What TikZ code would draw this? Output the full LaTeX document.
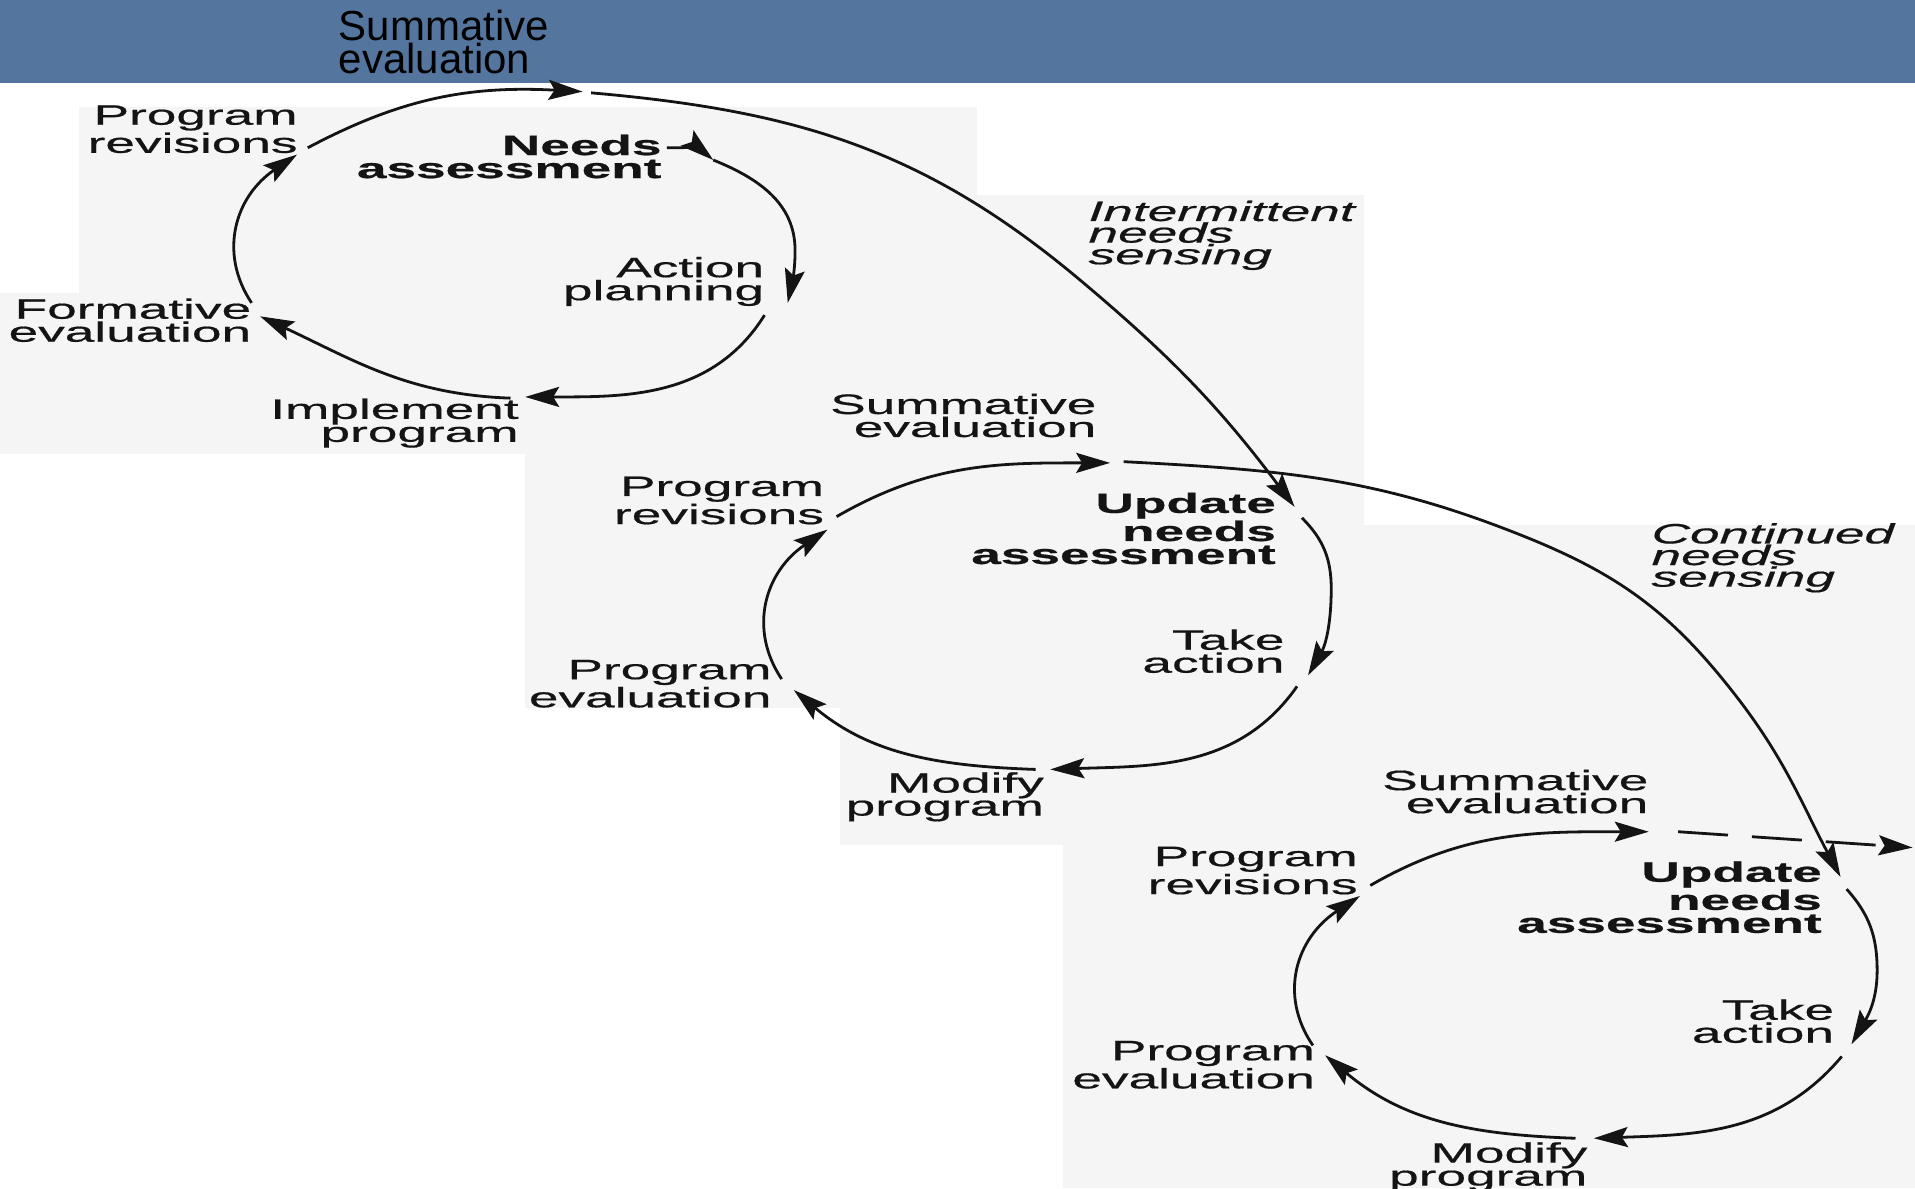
\documentclass[tikz,border=0pt]{standalone}
\usepackage{fontspec}
\setmainfont{Liberation Sans}
\newfontfamily\scanfont[FakeStretch=1.9,FakeBold=0.6]{Liberation Sans}
\usetikzlibrary{arrows.meta}
\definecolor{barblue}{RGB}{84,118,158}
\definecolor{scangray}{RGB}{245,245,245}
\definecolor{ink}{RGB}{20,20,20}
\begin{document}
\begin{tikzpicture}[x=0.61065pt,y=0.61065pt,
  lbl/.style={font=\scanfont\fontsize{14pt}{11.5pt}\selectfont, align=right, inner sep=0pt, anchor=north east, text=ink},
  blbl/.style={lbl, font=\scanfont\bfseries\fontsize{14pt}{11.5pt}\selectfont},
  ilbl/.style={lbl, font=\scanfont\itshape\fontsize{14pt}{10.8pt}\selectfont, align=left, anchor=north west},
  toplbl/.style={font=\fontsize{21pt}{16.5pt}\selectfont, align=left, inner sep=0pt, anchor=north west, text=black},
  flow/.style={draw=ink, line width=1.4pt, -{Stealth[length=17pt,width=10pt,inset=3pt]}},
]
\useasboundingbox (0,0) rectangle (1568,-973);
% scanned background patches
\fill[scangray] (65,-88) rectangle (800,-372);
\fill[scangray] (800,-160) rectangle (1117,-372);
\fill[scangray] (0,-240) rectangle (65,-372);
\fill[scangray] (430,-372) rectangle (1117,-580);
\fill[scangray] (688,-580) rectangle (1117,-692);
\fill[scangray] (870,-692) rectangle (1568,-973);
\fill[scangray] (1117,-430) rectangle (1568,-692);
% title bar
\fill[barblue] (0,0) rectangle (1568,-68);
\node[toplbl] (se1) at (277,-8) {Summative\\evaluation};

% ---- labels cycle 1
\node[lbl]  (pr1) at (244,-86)  {Program\\revisions};
\node[blbl] (na1) at (542,-110) {Needs\\assessment};
\node[lbl]  (ap1) at (626,-210) {Action\\planning};
\node[lbl]  (fe1) at (206,-244) {Formative\\evaluation};
\node[lbl]  (ip1) at (425,-326) {Implement\\program};
% ---- labels cycle 2
\node[lbl]  (se2) at (898,-322)  {Summative\\evaluation};
\node[lbl]  (pr2) at (675,-390)  {Program\\revisions};
\node[blbl] (un2) at (1045,-403) {Update\\needs\\assessment};
\node[lbl]  (ta2) at (1052,-515) {Take\\action};
\node[lbl]  (pe2) at (632,-540)  {Program\\evaluation};
\node[lbl]  (mp2) at (855,-632)  {Modify\\program};
\node[ilbl] (ins) at (891,-164)  {Intermittent\\needs\\sensing};
% ---- labels cycle 3
\node[lbl]  (se3) at (1350,-630) {Summative\\evaluation};
\node[lbl]  (pr3) at (1112,-693) {Program\\revisions};
\node[blbl] (un3) at (1492,-705) {Update\\needs\\assessment};
\node[lbl]  (ta3) at (1502,-818) {Take\\action};
\node[lbl]  (pe3) at (1077,-852) {Program\\evaluation};
\node[lbl]  (mp3) at (1300,-935) {Modify\\program};
\node[ilbl] (cns) at (1352,-428) {Continued\\needs\\sensing};

% ---- cycle 1 points
\coordinate (c1a) at (252,-121);
\coordinate (c1t) at (477,-75);
\coordinate (c1h) at (546,-121);
\coordinate (c1n) at (584,-131);
\coordinate (c1r) at (651,-205);
\coordinate (c1p) at (645,-248);
\coordinate (c1b) at (626,-258);
\coordinate (c1i) at (430,-325);
\coordinate (c1j) at (418,-326);
\coordinate (c1f) at (213,-259);
\coordinate (c1g) at (206,-248);
% big arc 1 (intermittent)
\coordinate (a1s) at (484,-76);
\coordinate (a1o) at (884,-229);
% ---- cycle 2 points
\coordinate (c2a) at (685,-423);
\coordinate (c2t) at (909,-379);
\coordinate (c2s) at (920,-378);
\coordinate (c2u) at (1060,-415);
\coordinate (c2v) at (1066,-424);
\coordinate (c2r) at (1090,-482);
\coordinate (c2k) at (1071,-553);
\coordinate (c2w) at (1062,-562);
\coordinate (c2m) at (860,-630);
\coordinate (c2x) at (848,-630);
\coordinate (c2e) at (650,-565);
\coordinate (c2y) at (640,-556);
% big arc 2 (continued)
\coordinate (a2m) at (1250,-440);
\coordinate (a2o) at (1420,-568);
% ---- cycle 3 points
\coordinate (c3a) at (1122,-725);
\coordinate (c3t) at (1350,-681);
\coordinate (c3s) at (1374,-681);
\coordinate (c3d) at (1566,-694);
\coordinate (c3u) at (1507,-718);
\coordinate (c3v) at (1512,-728);
\coordinate (c3r) at (1537,-795);
\coordinate (c3k) at (1516,-855);
\coordinate (c3w) at (1508,-865);
\coordinate (c3m) at (1305,-932);
\coordinate (c3x) at (1290,-932);
\coordinate (c3e) at (1085,-864);
\coordinate (c3y) at (1075,-856);

% ---- cycle 1
\draw[flow] (c1a) to[out=28,in=177] (c1t);
\draw[flow] (c1h) to[out=0,in=140] (c1n);
\draw[flow] (c1n) to[out=-22,in=90] (c1r) to[out=-90,in=78] (c1p);
\draw[flow] (c1b) to[out=-122,in=0] (c1i);
\draw[flow] (c1j) to[out=178,in=-25] (c1f);
\draw[flow] (c1g) arc[start angle=200, end angle=141, x radius=229, y radius=125];
% intermittent needs sensing
\draw[flow] (a1s) to[out=-5,in=140] (a1o) to[out=-40,in=127] (c2u);
% ---- cycle 2
\draw[flow] (c2a) to[out=30,in=180] (c2t);
\draw[flow] (c2v) to[out=-45,in=90] (c2r) to[out=-90,in=60] (c2k);
\draw[flow] (c2w) to[out=-125,in=2] (c2m);
\draw[flow] (c2x) to[out=178,in=-40] (c2e);
\draw[flow] (c2y) arc[start angle=200, end angle=141, x radius=231, y radius=126];
% continued needs sensing
\draw[flow] (c2s) to[out=-3,in=158] (a2m) to[out=-22,in=128] (a2o) to[out=-52,in=118] (c3u);
% ---- cycle 3
\draw[flow] (c3a) to[out=30,in=180] (c3t);
\draw[flow] (c3v) to[out=-48,in=90] (c3r) to[out=-90,in=60] (c3k);
\draw[flow] (c3w) to[out=-130,in=2] (c3m);
\draw[flow] (c3x) to[out=178,in=-40] (c3e);
\draw[flow] (c3y) arc[start angle=200, end angle=141, x radius=237, y radius=126];
\draw[flow, dash pattern=on 25pt off 12pt] (c3s) -- (c3d);
\end{tikzpicture}
\end{document}
